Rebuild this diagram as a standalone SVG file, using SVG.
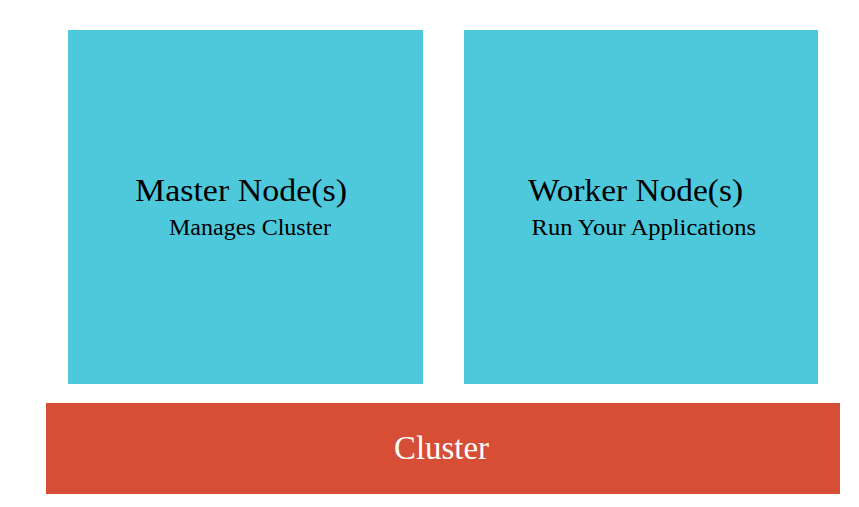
<svg xmlns="http://www.w3.org/2000/svg" width="859" height="507" viewBox="0 0 859 507">
<style>
.node{fill:#4DC9DB}
.cluster{fill:#D64E36}
.t{font-family:"Liberation Serif","Times New Roman",serif;fill:#000}
.title{font-size:31px}
.sub{font-size:23px}
.ct{font-family:"Liberation Serif","Times New Roman",serif;font-size:33px;fill:#fff}
</style>
<rect width="859" height="507" fill="#fff"/>
<g id="master">
<rect class="node" x="68" y="30" width="355" height="354"/>
<text class="t title" x="135" y="200.5" textLength="212" lengthAdjust="spacingAndGlyphs">Master Node(s)</text>
<text class="t sub" x="169" y="235" textLength="162" lengthAdjust="spacingAndGlyphs">Manages Cluster</text>
</g>
<g id="worker">
<rect class="node" x="464" y="30" width="354" height="354"/>
<text class="t title" x="528" y="200.5" textLength="215" lengthAdjust="spacingAndGlyphs">Worker Node(s)</text>
<text class="t sub" x="531.5" y="235" textLength="224.5" lengthAdjust="spacingAndGlyphs">Run Your Applications</text>
</g>
<g id="cluster">
<rect class="cluster" x="46" y="403" width="794" height="91"/>
<text class="ct" x="394" y="458.5" textLength="95" lengthAdjust="spacingAndGlyphs">Cluster</text>
</g>
<g id="connectors"></g>
</svg>
